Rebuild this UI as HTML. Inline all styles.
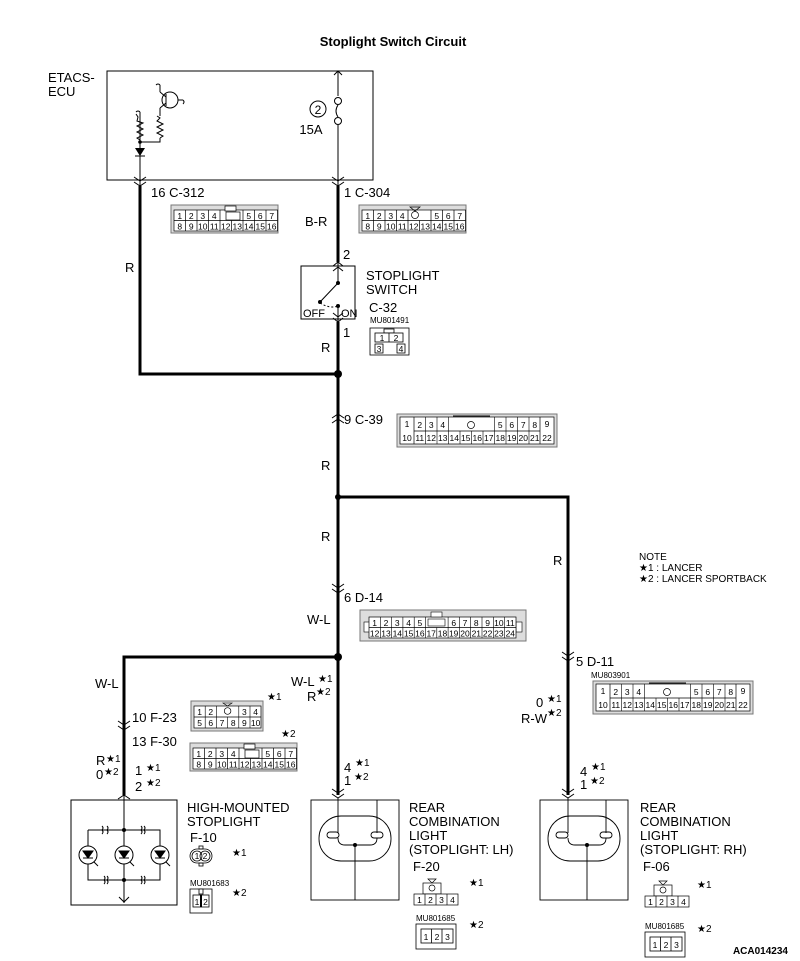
<!DOCTYPE html>
<html><head><meta charset="utf-8"><style>
html,body{margin:0;padding:0;background:#fff}
svg{display:block}
text{font-family:"Liberation Sans",sans-serif;fill:#000}
.n{font-size:13px}
.c{font-size:8.5px;text-anchor:middle}
.s{font-size:8px}
.b{font-size:13px}
</style></head><body>
<svg width="800" height="961" viewBox="0 0 800 961" xmlns="http://www.w3.org/2000/svg">
<text x="393" y="46" font-size="13" font-weight="bold" text-anchor="middle">Stoplight Switch Circuit</text>

<!-- ECU -->
<text x="48" y="82" class="b">ETACS-</text>
<text x="48" y="96" class="b">ECU</text>
<rect x="107" y="71" width="266" height="109" fill="none" stroke="#000" stroke-width="1"/>
<g stroke="#000" fill="none" stroke-width="1">
<line x1="140" y1="112" x2="140" y2="188"/>
<polyline points="136,114 138,117 137,121 143,123 137,126 143,129 137,132 143,135 137,138 140,140 140,142"/>
<polyline points="140,142 160,142 160,138"/>
<polyline points="157,116 160,118 157,121 163,124 157,127 163,130 157,133 163,136 160,138"/>
<line x1="160" y1="116" x2="160" y2="108"/>
<circle cx="170" cy="100" r="8"/>
<line x1="166" y1="94" x2="166" y2="106"/>
<line x1="160" y1="108" x2="166" y2="103"/><line x1="166" y1="97" x2="160" y2="92"/>
<line x1="160" y1="92" x2="160" y2="85"/>
<line x1="178" y1="100" x2="183" y2="100"/>
<path d="M160 85 q-2 -2 -4 0"/>
<path d="M183 100 q2 2 0 4"/>
<path d="M140 112 q-2 -2 -4 0"/>
<line x1="338" y1="71" x2="338" y2="96"/>
<circle cx="338" cy="101" r="3.5"/>
<path d="M338 105 q-4 6 0 12"/>
<circle cx="338" cy="121" r="3.5"/>
<line x1="338" y1="125" x2="338" y2="188"/>
<polyline points="334,75 338,71 342,75"/>
<polyline points="134,177 140,181 146,177"/><polyline points="134,182 140,186 146,182"/>
<polyline points="332,177 338,181 344,177"/><polyline points="332,182 338,186 344,182"/>
</g>
<polygon points="135,148 145,148 140,156" fill="#000"/>
<line x1="135" y1="156" x2="145" y2="156" stroke="#000"/>
<circle cx="140" cy="142" r="1.8" fill="#000"/>
<circle cx="318" cy="109" r="8" fill="none" stroke="#000"/>
<text x="318" y="114" font-size="12" text-anchor="middle">2</text>
<text x="311" y="134" class="n" text-anchor="middle">15A</text>

<!-- wires -->
<g stroke="#000" stroke-width="3" fill="none">
<polyline points="140,186 140,374 338,374"/>
<line x1="338" y1="186" x2="338" y2="262"/>
<line x1="338" y1="322" x2="338" y2="795"/>
<polyline points="338,497 568,497 568,795"/>
<polyline points="338,657 124,657 124,795"/>
</g>
<circle cx="338" cy="374" r="4" fill="#000"/>
<circle cx="338" cy="497" r="3" fill="#000"/>
<circle cx="338" cy="657" r="4" fill="#000"/>

<text x="151" y="197" class="n">16  C-312</text>
<text x="344" y="197" class="n">1  C-304</text>
<text x="125" y="272" class="n">R</text>
<text x="305" y="226" class="n">B-R</text>
<text x="343" y="259" class="n">2</text>

<!-- switch -->
<rect x="301" y="266" width="54" height="53" fill="none" stroke="#000"/>
<g stroke="#000" fill="none" stroke-width="1">
<polyline points="333,266 338,262 343,266"/><polyline points="333,271 338,267 343,271"/>
<line x1="338" y1="262" x2="338" y2="283"/>
<line x1="338" y1="283" x2="320" y2="302"/>
<path d="M320 303 q10 6 18 3" stroke-dasharray="2,2"/>
<line x1="338" y1="306" x2="338" y2="322"/>
<polyline points="333,313 338,317 343,313"/><polyline points="333,318 338,322 343,318"/>
</g>
<circle cx="338" cy="283" r="2" fill="#000"/><circle cx="320" cy="302" r="2" fill="#000"/><circle cx="338" cy="306" r="2" fill="#000"/>
<text x="303" y="317" font-size="11">OFF</text>
<text x="341" y="317" font-size="11">ON</text>
<text x="366" y="280" class="b">STOPLIGHT</text>
<text x="366" y="294" class="b">SWITCH</text>
<text x="369" y="312" class="n">C-32</text>
<text x="370" y="323" class="s">MU801491</text>
<g stroke="#000" fill="#fff" stroke-width="0.8">
<rect x="370" y="328" width="39" height="27"/>
<rect x="384" y="329" width="10" height="4"/>
<rect x="375" y="333" width="28" height="9"/>
<line x1="389" y1="333" x2="389" y2="342"/>
<rect x="375" y="344" width="8" height="9"/><rect x="397" y="344" width="8" height="9"/>
</g>
<text x="382" y="341" class="c">1</text><text x="396" y="341" class="c">2</text>
<text x="379" y="352" class="c">3</text><text x="401" y="352" class="c">4</text>
<text x="343" y="337" class="n">1</text>
<text x="321" y="352" class="n">R</text>

<!-- connectors C-312, C-304, F-30 (same layout) -->
<defs>
<g id="c16">
<rect x="0" y="0" width="107" height="28" fill="#ddd" stroke="#777"/>
<rect x="3" y="5" width="103.5" height="21" fill="#fff" stroke="#000" stroke-width="0.7"/>
<line x1="3" y1="15.5" x2="106.5" y2="15.5" stroke="#000" stroke-width="0.7"/>
<g stroke="#000" stroke-width="0.7">
<line x1="14.5" y1="5" x2="14.5" y2="26"/><line x1="26" y1="5" x2="26" y2="26"/><line x1="37.5" y1="5" x2="37.5" y2="26"/><line x1="49" y1="5" x2="49" y2="26"/>
<line x1="60.5" y1="15.5" x2="60.5" y2="26"/><line x1="72" y1="5" x2="72" y2="26"/><line x1="83.5" y1="5" x2="83.5" y2="26"/><line x1="95" y1="5" x2="95" y2="26"/>
</g>
<text x="8.75" y="14" class="c">1</text><text x="20.25" y="14" class="c">2</text><text x="31.75" y="14" class="c">3</text><text x="43.25" y="14" class="c">4</text>
<text x="77.75" y="14" class="c">5</text><text x="89.25" y="14" class="c">6</text><text x="100.75" y="14" class="c">7</text>
<text x="8.75" y="24.5" class="c">8</text><text x="20.25" y="24.5" class="c">9</text><text x="31.75" y="24.5" class="c">10</text><text x="43.25" y="24.5" class="c">11</text><text x="54.75" y="24.5" class="c">12</text><text x="66.25" y="24.5" class="c">13</text><text x="77.75" y="24.5" class="c">14</text><text x="89.25" y="24.5" class="c">15</text><text x="100.75" y="24.5" class="c">16</text>
</g>
<g id="c22">
<rect x="0" y="0" width="160" height="33" fill="#ddd" stroke="#777"/>
<rect x="3" y="3" width="154" height="27" fill="#fff" stroke="#000" stroke-width="0.7"/>
<line x1="17" y1="3" x2="17" y2="30" stroke="#000" stroke-width="0.7"/>
<line x1="143" y1="3" x2="143" y2="30" stroke="#000" stroke-width="0.7"/>
<line x1="17" y1="17" x2="143" y2="17" stroke="#000" stroke-width="0.7"/>
<line x1="56" y1="2" x2="93" y2="2" stroke="#000"/>
<circle cx="74" cy="11" r="3.5" fill="none" stroke="#000" stroke-width="0.7"/>
<g stroke="#000" stroke-width="0.6">
<line x1="28.5" y1="3" x2="28.5" y2="30"/><line x1="40" y1="3" x2="40" y2="30"/><line x1="51.5" y1="3" x2="51.5" y2="30"/>
<line x1="63" y1="17" x2="63" y2="30"/><line x1="74.5" y1="17" x2="74.5" y2="30"/><line x1="86" y1="17" x2="86" y2="30"/><line x1="97.5" y1="3" x2="97.5" y2="30"/>
<line x1="109" y1="3" x2="109" y2="30"/><line x1="120.5" y1="3" x2="120.5" y2="30"/><line x1="132" y1="3" x2="132" y2="30"/>
</g>
<text x="10" y="13" class="c">1</text><text x="150" y="13" class="c">9</text>
<text x="10" y="27" class="c">10</text><text x="150" y="27" class="c">22</text>
<text x="22.75" y="14" class="c">2</text><text x="34.25" y="14" class="c">3</text><text x="45.75" y="14" class="c">4</text>
<text x="103.25" y="14" class="c">5</text><text x="114.75" y="14" class="c">6</text><text x="126.25" y="14" class="c">7</text><text x="137.75" y="14" class="c">8</text>
<text x="22.75" y="27" class="c">11</text><text x="34.25" y="27" class="c">12</text><text x="45.75" y="27" class="c">13</text><text x="57.25" y="27" class="c">14</text><text x="68.75" y="27" class="c">15</text><text x="80.25" y="27" class="c">16</text><text x="91.75" y="27" class="c">17</text><text x="103.25" y="27" class="c">18</text><text x="114.75" y="27" class="c">19</text><text x="126.25" y="27" class="c">20</text><text x="137.75" y="27" class="c">21</text>
</g>
</defs>
<use href="#c16" x="171" y="205"/>
<rect x="225" y="206" width="11" height="5" fill="#fff" stroke="#000" stroke-width="0.7"/>
<rect x="226" y="212" width="14" height="8" fill="#fff" stroke="#000" stroke-width="0.7"/>
<use href="#c16" x="359" y="205"/>
<polygon points="410,207 420,207 415,211" fill="none" stroke="#000" stroke-width="0.7"/>
<circle cx="415" cy="215" r="3.5" fill="none" stroke="#000" stroke-width="0.7"/>

<!-- C-39 -->
<g stroke="#000" fill="none" stroke-width="1">
<polyline points="332,418 338,414 344,418"/><polyline points="332,423 338,419 344,423"/>
</g>
<text x="344" y="424" class="n">9  C-39</text>
<use href="#c22" x="397" y="414"/>
<text x="321" y="470" class="n">R</text>
<text x="321" y="541" class="n">R</text>
<text x="553" y="565" class="n">R</text>

<!-- note -->
<text x="639" y="560" font-size="10">NOTE</text>
<text x="639" y="571" font-size="10">★1 : LANCER</text>
<text x="639" y="582" font-size="10">★2 : LANCER SPORTBACK</text>

<!-- D-14 -->
<g stroke="#000" fill="none" stroke-width="1">
<polyline points="332,584 338,588 344,584"/><polyline points="332,589 338,593 344,589"/>
</g>
<text x="344" y="602" class="n">6  D-14</text>
<text x="307" y="624" class="n">W-L</text>
<g>
<rect x="360" y="610" width="166" height="31" fill="#ddd" stroke="#777"/>
<rect x="364" y="622" width="6" height="10" fill="#fff" stroke="#000" stroke-width="0.6"/>
<rect x="516" y="622" width="6" height="10" fill="#fff" stroke="#000" stroke-width="0.6"/>
<rect x="369" y="617" width="147" height="21" fill="#fff" stroke="#000" stroke-width="0.7"/>
<rect x="431" y="612" width="11" height="5" fill="#fff" stroke="#000" stroke-width="0.6"/>
<line x1="369" y1="627.5" x2="516" y2="627.5" stroke="#000" stroke-width="0.7"/>
<g stroke="#000" stroke-width="0.6">
<line x1="380.3" y1="617" x2="380.3" y2="638"/><line x1="391.6" y1="617" x2="391.6" y2="638"/><line x1="402.9" y1="617" x2="402.9" y2="638"/><line x1="414.2" y1="617" x2="414.2" y2="638"/><line x1="425.5" y1="617" x2="425.5" y2="638"/>
<line x1="436.8" y1="627.5" x2="436.8" y2="638"/><line x1="448.1" y1="617" x2="448.1" y2="638"/><line x1="459.4" y1="617" x2="459.4" y2="638"/><line x1="470.7" y1="617" x2="470.7" y2="638"/><line x1="482" y1="617" x2="482" y2="638"/><line x1="493.3" y1="617" x2="493.3" y2="638"/><line x1="504.6" y1="617" x2="504.6" y2="638"/>
</g>
<rect x="428" y="619" width="17" height="7" fill="#fff" stroke="#000" stroke-width="0.6"/>
<text x="374.6" y="626" class="c">1</text><text x="386" y="626" class="c">2</text><text x="397.3" y="626" class="c">3</text><text x="408.6" y="626" class="c">4</text><text x="419.9" y="626" class="c">5</text>
<text x="453.7" y="626" class="c">6</text><text x="465" y="626" class="c">7</text><text x="476.3" y="626" class="c">8</text><text x="487.6" y="626" class="c">9</text><text x="498.9" y="626" class="c">10</text><text x="510.3" y="626" class="c">11</text>
<text x="374.6" y="636.5" class="c">12</text><text x="386" y="636.5" class="c">13</text><text x="397.3" y="636.5" class="c">14</text><text x="408.6" y="636.5" class="c">15</text><text x="419.9" y="636.5" class="c">16</text><text x="431.2" y="636.5" class="c">17</text><text x="442.5" y="636.5" class="c">18</text><text x="453.7" y="636.5" class="c">19</text><text x="465" y="636.5" class="c">20</text><text x="476.3" y="636.5" class="c">21</text><text x="487.6" y="636.5" class="c">22</text><text x="498.9" y="636.5" class="c">23</text><text x="510.3" y="636.5" class="c">24</text>
</g>

<!-- D-11 -->
<g stroke="#000" fill="none" stroke-width="1">
<polyline points="562,652 568,656 574,652"/><polyline points="562,657 568,661 574,657"/>
</g>
<text x="576" y="666" class="n">5  D-11</text>
<text x="591" y="678" class="s">MU803901</text>
<use href="#c22" x="593" y="681"/>
<text x="536" y="707" class="n">0</text><text x="547" y="702" font-size="10">★1</text>
<text x="547" y="716" font-size="10">★2</text>
<text x="521" y="723" class="n">R-W</text>

<!-- left branch -->
<text x="95" y="688" class="n">W-L</text>
<text x="291" y="686" class="n">W-L</text><text x="318" y="682" font-size="10">★1</text>
<text x="307" y="701" class="n">R</text><text x="316" y="695" font-size="10">★2</text>
<g stroke="#000" fill="none" stroke-width="1">
<polyline points="118,721 124,725 130,721"/><polyline points="118,726 124,730 130,726"/>
</g>
<text x="132" y="722" class="n">10  F-23</text>
<text x="132" y="746" class="n">13  F-30</text>
<text x="267" y="700" font-size="10">★1</text>
<text x="281" y="737" font-size="10">★2</text>
<g>
<rect x="191" y="701" width="72" height="30" fill="#ddd" stroke="#777"/>
<rect x="194" y="706" width="67" height="22" fill="#fff" stroke="#000" stroke-width="0.7"/>
<line x1="194" y1="717" x2="261" y2="717" stroke="#000" stroke-width="0.7"/>
<g stroke="#000" stroke-width="0.6">
<line x1="205.2" y1="706" x2="205.2" y2="728"/><line x1="216.4" y1="706" x2="216.4" y2="728"/><line x1="227.6" y1="717" x2="227.6" y2="728"/><line x1="238.8" y1="706" x2="238.8" y2="728"/><line x1="250" y1="706" x2="250" y2="728"/>
</g>
<polygon points="223,703 232,703 227.5,706" fill="none" stroke="#000" stroke-width="0.6"/>
<circle cx="227.6" cy="711" r="3.3" fill="none" stroke="#000" stroke-width="0.7"/>
<text x="199.6" y="715" class="c">1</text><text x="210.8" y="715" class="c">2</text><text x="244.4" y="715" class="c">3</text><text x="255.6" y="715" class="c">4</text>
<text x="199.6" y="726" class="c">5</text><text x="210.8" y="726" class="c">6</text><text x="222" y="726" class="c">7</text><text x="233.2" y="726" class="c">8</text><text x="244.4" y="726" class="c">9</text><text x="255.6" y="726" class="c">10</text>
</g>
<use href="#c16" x="190" y="743"/>
<rect x="244" y="744" width="11" height="5" fill="#fff" stroke="#000" stroke-width="0.7"/>
<rect x="245" y="750" width="14" height="8" fill="#fff" stroke="#000" stroke-width="0.7"/>

<text x="96" y="765" class="n">R</text><text x="106" y="762" font-size="10">★1</text>
<text x="96" y="779" class="n">0</text><text x="104" y="775" font-size="10">★2</text>
<text x="135" y="775" class="n">1</text><text x="146" y="771" font-size="10">★1</text>
<text x="135" y="791" class="n">2</text><text x="146" y="786" font-size="10">★2</text>

<!-- high mounted -->
<rect x="71" y="800" width="106" height="105" fill="none" stroke="#000"/>
<g stroke="#000" fill="none" stroke-width="1">
<polyline points="118,799 124,795 130,799"/>
<line x1="124" y1="795" x2="124" y2="903"/>
<polyline points="119,897 124,902 129,897"/>
<polyline points="88,830 88,880 160,880 160,830 88,830"/>
<path d="M104 830 m-2 -4 q2 2 0 4 q2 2 0 4 M107 826 q2 2 0 4 q2 2 0 4"/>
<path d="M141 826 q2 2 0 4 q2 2 0 4 M144 826 q2 2 0 4 q2 2 0 4"/>
<path d="M104 876 q2 2 0 4 q2 2 0 4 M107 876 q2 2 0 4 q2 2 0 4"/>
<path d="M141 876 q2 2 0 4 q2 2 0 4 M144 876 q2 2 0 4 q2 2 0 4"/>
<circle cx="88" cy="855" r="9" fill="#fff"/>
<circle cx="124" cy="855" r="9" fill="#fff"/>
<circle cx="160" cy="855" r="9" fill="#fff"/>
<line x1="94" y1="862" x2="98" y2="866"/><line x1="130" y1="862" x2="134" y2="866"/><line x1="166" y1="862" x2="170" y2="866"/>
</g>
<g fill="#000" stroke="#000">
<polygon points="83,851 93,851 88,858"/><line x1="83" y1="858" x2="93" y2="858"/>
<polygon points="119,851 129,851 124,858"/><line x1="119" y1="858" x2="129" y2="858"/>
<polygon points="155,851 165,851 160,858"/><line x1="155" y1="858" x2="165" y2="858"/>
</g>
<circle cx="124" cy="830" r="2" fill="#000"/><circle cx="124" cy="880" r="2" fill="#000"/>
<text x="187" y="812" class="b">HIGH-MOUNTED</text>
<text x="187" y="826" class="b">STOPLIGHT</text>
<text x="190" y="842" class="n">F-10</text>
<text x="232" y="856" font-size="10">★1</text>
<g stroke="#000" fill="none" stroke-width="0.8">
<rect x="190" y="849" width="22" height="14" rx="7"/>
<circle cx="197" cy="856" r="5"/><circle cx="205" cy="856" r="5"/>
<rect x="199" y="846" width="4" height="3"/><rect x="199" y="863" width="4" height="3"/>
</g>
<text x="197" y="859" class="c">1</text><text x="205" y="859" class="c">2</text>
<text x="190" y="886" class="s">MU801683</text>
<text x="232" y="896" font-size="10">★2</text>
<g stroke="#000" fill="#fff" stroke-width="0.8">
<rect x="190" y="889" width="22" height="24"/>
<rect x="199" y="889" width="4" height="5"/>
<rect x="193" y="895" width="16" height="12"/>
<line x1="201" y1="895" x2="201" y2="907" stroke-width="2"/>
</g>
<text x="197" y="905" class="c">1</text><text x="205.5" y="905" class="c">2</text>

<!-- rear LH -->
<g stroke="#000" fill="none" stroke-width="1">
<polyline points="332,789 338,793 344,789"/><polyline points="332,794 338,798 344,794"/>
</g>
<text x="344" y="772" class="n">4</text><text x="355" y="766" font-size="10">★1</text>
<text x="344" y="785" class="n">1</text><text x="354" y="780" font-size="10">★2</text>
<g stroke="#000" fill="none" stroke-width="0.9">
<rect x="311" y="800" width="88" height="100"/>
<rect x="319" y="816" width="72" height="45" rx="22"/>
<rect x="327" y="832" width="12" height="6" rx="3"/><rect x="371" y="832" width="12" height="6" rx="3"/>
<line x1="338" y1="798" x2="338" y2="833"/>
<line x1="377" y1="800" x2="377" y2="833"/>
<path d="M338 838 q0 7 7 7 L370 845 q7 0 7 -7"/>
<line x1="355" y1="845" x2="355" y2="900"/>
</g>
<circle cx="355" cy="845" r="2" fill="#000"/>
<text x="409" y="812" class="b">REAR</text>
<text x="409" y="826" class="b">COMBINATION</text>
<text x="409" y="840" class="b">LIGHT</text>
<text x="409" y="854" class="b">(STOPLIGHT: LH)</text>
<text x="413" y="871" class="n">F-20</text>
<text x="469" y="886" font-size="10">★1</text>
<text x="469" y="928" font-size="10">★2</text>

<!-- rear RH -->
<g stroke="#000" fill="none" stroke-width="1">
<polyline points="562,789 568,793 574,789"/><polyline points="562,794 568,798 574,794"/>
</g>
<text x="580" y="776" class="n">4</text><text x="591" y="770" font-size="10">★1</text>
<text x="580" y="789" class="n">1</text><text x="590" y="784" font-size="10">★2</text>
<g stroke="#000" fill="none" stroke-width="0.9">
<rect x="540" y="800" width="88" height="100"/>
<rect x="548" y="816" width="72" height="45" rx="22"/>
<rect x="556" y="832" width="12" height="6" rx="3"/><rect x="600" y="832" width="12" height="6" rx="3"/>
<line x1="568" y1="798" x2="568" y2="833"/>
<line x1="606" y1="800" x2="606" y2="833"/>
<path d="M568 838 q0 7 7 7 L599 845 q7 0 7 -7"/>
<line x1="587" y1="845" x2="587" y2="900"/>
</g>
<circle cx="587" cy="845" r="2" fill="#000"/>
<text x="640" y="812" class="b">REAR</text>
<text x="640" y="826" class="b">COMBINATION</text>
<text x="640" y="840" class="b">LIGHT</text>
<text x="640" y="854" class="b">(STOPLIGHT: RH)</text>
<text x="643" y="871" class="n">F-06</text>
<text x="697" y="888" font-size="10">★1</text>
<text x="697" y="932" font-size="10">★2</text>

<!-- 4-pin connectors -->
<g id="p4">
<g stroke="#000" fill="#fff" stroke-width="0.7">
<polygon points="428,879 436,879 432,883"/>
<rect x="423" y="883" width="18" height="11"/>
<circle cx="432" cy="888" r="3"/>
<rect x="414" y="894" width="44" height="11"/>
<line x1="425" y1="894" x2="425" y2="905"/><line x1="436" y1="894" x2="436" y2="905"/><line x1="447" y1="894" x2="447" y2="905"/>
</g>
<text x="419.5" y="903" class="c">1</text><text x="430.5" y="903" class="c">2</text><text x="441.5" y="903" class="c">3</text><text x="452.5" y="903" class="c">4</text>
</g>
<g transform="translate(231,2)">
<g stroke="#000" fill="#fff" stroke-width="0.7">
<polygon points="428,879 436,879 432,883"/>
<rect x="423" y="883" width="18" height="11"/>
<circle cx="432" cy="888" r="3"/>
<rect x="414" y="894" width="44" height="11"/>
<line x1="425" y1="894" x2="425" y2="905"/><line x1="436" y1="894" x2="436" y2="905"/><line x1="447" y1="894" x2="447" y2="905"/>
</g>
<text x="419.5" y="903" class="c">1</text><text x="430.5" y="903" class="c">2</text><text x="441.5" y="903" class="c">3</text><text x="452.5" y="903" class="c">4</text>
</g>
<!-- 3-pin -->
<text x="416" y="921" class="s">MU801685</text>
<g stroke="#000" fill="#fff" stroke-width="0.8">
<rect x="416" y="924" width="40" height="25"/>
<rect x="421" y="929" width="32" height="14"/>
<line x1="431.5" y1="929" x2="431.5" y2="943"/><line x1="442" y1="929" x2="442" y2="943"/>
</g>
<text x="426" y="940" class="c">1</text><text x="437" y="940" class="c">2</text><text x="447.5" y="940" class="c">3</text>
<text x="645" y="929" class="s">MU801685</text>
<g stroke="#000" fill="#fff" stroke-width="0.8">
<rect x="645" y="932" width="40" height="25"/>
<rect x="650" y="937" width="32" height="14"/>
<line x1="660.5" y1="937" x2="660.5" y2="951"/><line x1="671" y1="937" x2="671" y2="951"/>
</g>
<text x="655" y="948" class="c">1</text><text x="666" y="948" class="c">2</text><text x="676.5" y="948" class="c">3</text>

<text x="788" y="954" font-size="10" font-weight="bold" text-anchor="end">ACA014234</text>
</svg>
</body></html>
